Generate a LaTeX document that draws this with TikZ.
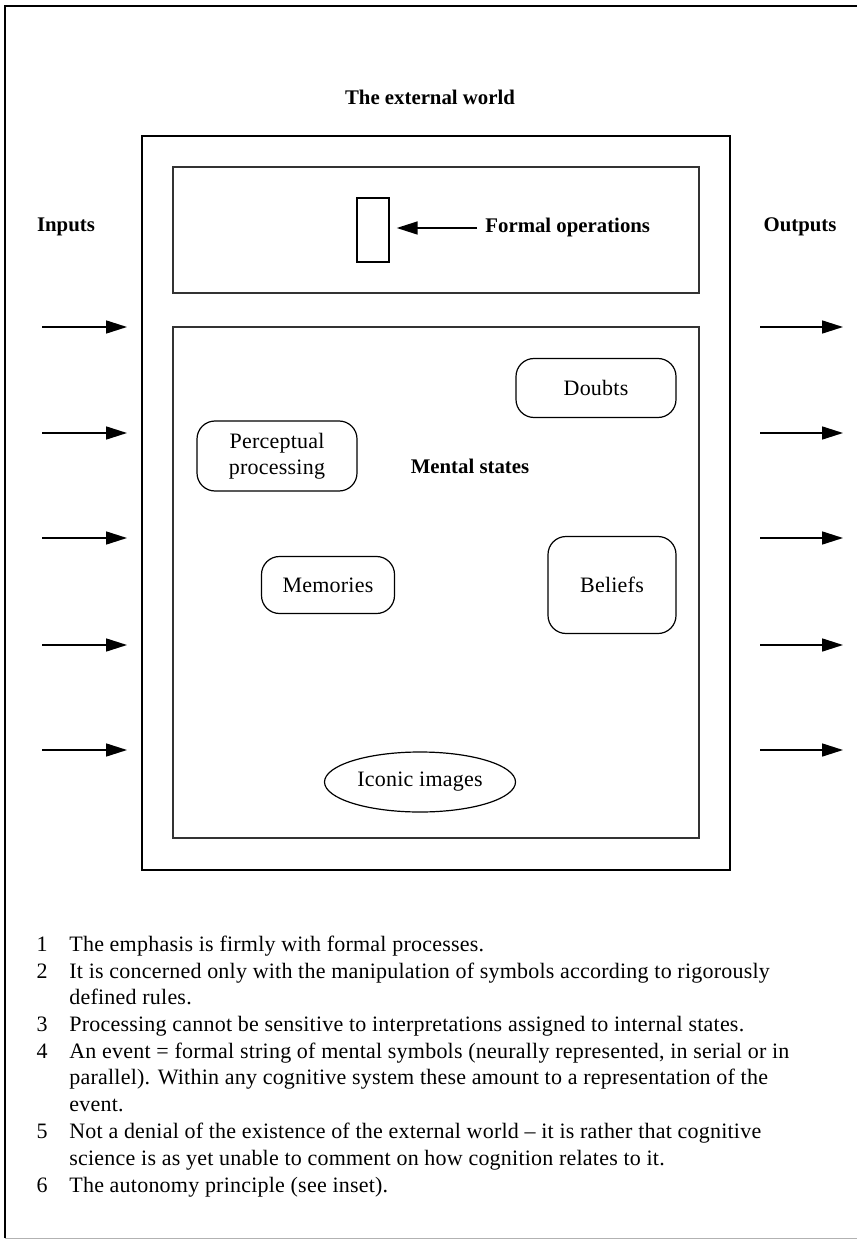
\documentclass[tikz,border=0pt]{standalone}
\usepackage{fontspec}
\setmainfont{Liberation Serif}
\newfontfamily\notefont[LetterSpace=1]{Liberation Serif}
\usetikzlibrary{arrows.meta,shapes.geometric}
\begin{document}
\begin{tikzpicture}[x=0.5pt,y=-0.5pt,
  frame/.style={line width=0.7pt},
  mainbox/.style={line width=1.4pt},
  panel/.style={line width=0.8pt, draw=black!80},
  state/.style={draw, line width=0.6pt, rounded corners=9pt, align=center,
                font=\notefont\fontsize{11}{13}\selectfont, inner sep=0pt},
  heading/.style={font=\bfseries\fontsize{10.4}{12}\selectfont},
  flow/.style={line width=0.8pt, -{Triangle[length=10.5pt,width=6.5pt]}},
  notenum/.style={anchor=base, font=\notefont\fontsize{11}{12}\selectfont},
  notetext/.style={anchor=base west, inner sep=0pt, font=\notefont\fontsize{11}{12}\selectfont}
]
\useasboundingbox (0,0) rectangle (857,1240);

% page frame
\draw[frame] (5,1238) -- (5,6) -- (857,6);
\draw[line width=0.4pt, black!30] (5,1238) -- (857,1238);

% system box and its two panels
\draw[mainbox] (142,136) rectangle (730,870);
\draw[panel] (173,167) rectangle (699,293);
\draw[panel] (173,327) rectangle (699,838);

% labels
\node[heading] (world) at (430,97) {The external world};
\node[heading] (inputs) at (66,227) {Inputs};
\node[heading] (outputs) at (800,227) {Outputs};
\node[heading] (mental) at (470,466) {Mental states};

% formal operations
\node[draw, line width=0.7pt, minimum width=16pt, minimum height=32pt, inner sep=0pt] (ops) at (373,230) {};
\node[heading, anchor=west, inner sep=0pt] (opslabel) at (485,228) {Formal operations};
\coordinate (opsstart) at ([xshift=-4pt]opslabel.west);
\draw[flow] (opsstart) -- ([xshift=3.5pt]ops.east |- opsstart);

% contents of the mental states panel
\node[state, minimum width=80pt, minimum height=29.5pt] (doubts) at (596,388) {Doubts};
\node[state, minimum width=80pt, minimum height=35pt] (percept) at (277,456) {Perceptual\\processing};
\node[state, minimum width=66.5pt, minimum height=28.5pt] (memories) at (328,585) {Memories};
\node[state, minimum width=64pt, minimum height=48.5pt] (beliefs) at (612,585) {Beliefs};
\node[draw, line width=0.6pt, ellipse, minimum width=95.5pt, minimum height=30pt, inner sep=0pt,
      font=\notefont\fontsize{11}{13}\selectfont] (iconic) at (420,782) {Iconic images};

% input and output streams
\foreach \i/\y in {1/327,2/433,3/538,4/645,5/750}{
  \coordinate (in\i a) at (42,\y);
  \coordinate (in\i b) at (127,\y);
  \coordinate (out\i a) at (760,\y);
  \coordinate (out\i b) at (843,\y);
  \draw[flow] (in\i a) -- (in\i b);
  \draw[flow] (out\i a) -- (out\i b);
}

% numbered notes
\node[notenum] (n1) at (42,951) {1};
\node[notetext] (t1) at (69,951) {The emphasis is firmly with formal processes.};
\node[notenum] (n2) at (42,978) {2};
\node[notetext] (t2) at (69,978) {It is concerned only with the manipulation of symbols according to rigorously};
\node[notetext] (t2b) at (69,1004.5) {defined rules.};
\node[notenum] (n3) at (42,1031) {3};
\node[notetext] (t3) at (69,1031) {Processing cannot be sensitive to interpretations assigned to internal states.};
\node[notenum] (n4) at (42,1058) {4};
\node[notetext] (t4) at (69,1058) {An event = formal string of mental symbols (neurally represented, in serial or in};
\node[notetext] (t4b) at (69,1084.5) {parallel). Within any cognitive system these amount to a representation of the};
\node[notetext] (t4c) at (69,1111) {event.};
\node[notenum] (n5) at (42,1138) {5};
\node[notetext] (t5) at (69,1138) {Not a denial of the existence of the external world – it is rather that cognitive};
\node[notetext] (t5b) at (69,1165) {science is as yet unable to comment on how cognition relates to it.};
\node[notenum] (n6) at (42,1192) {6};
\node[notetext] (t6) at (69,1192) {The autonomy principle (see inset).};
\end{tikzpicture}
\end{document}
